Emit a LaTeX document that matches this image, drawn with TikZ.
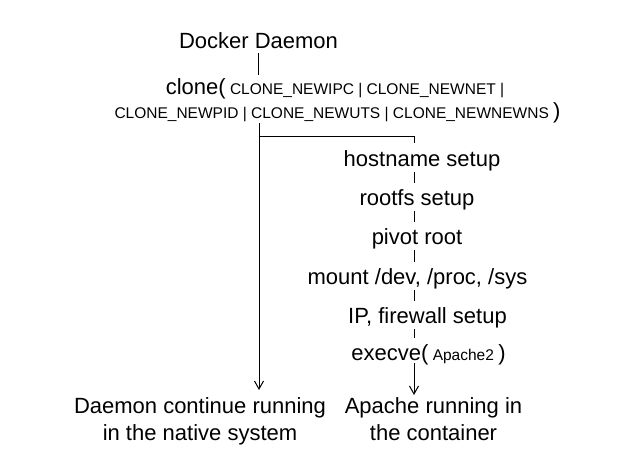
\documentclass[tikz,border=0pt]{standalone}
\usepackage{fontspec}
\setmainfont{Liberation Sans}
\usepackage{tikz}
\usetikzlibrary{arrows.meta,positioning}

\newcommand{\bigtxt}{\fontsize{22}{27.5}\selectfont}
\newcommand{\smalltxt}{\fontsize{15.5}{18}\selectfont}

\begin{document}
\begin{tikzpicture}[
    x=1pt, y=-1pt,
    stage/.style={anchor=base, inner sep=0pt, text height=16pt, text depth=5pt, font=\bigtxt},
    outcome/.style={anchor=north, inner sep=0pt, align=center, font=\bigtxt},
    tick/.style={line width=1pt, shorten <=1pt, shorten >=6pt},
    arrow/.style={->, >={Straight Barb[length=8pt,width=9pt]}, line width=1pt}
]
\useasboundingbox (0,0) rectangle (630,464);

\node[stage] (docker) at (258.5,48) {Docker Daemon};
\node[stage] (clone) at (335,94) {clone(\smalltxt{} CLONE\_NEWIPC | CLONE\_NEWNET |};
\node[stage] (flags) at (337.5,118) {\smalltxt CLONE\_NEWPID | CLONE\_NEWUTS | CLONE\_NEWNEWNS {\bigtxt)}};

\coordinate (split) at (259,136);
\coordinate (spine) at (414,0);

\node[stage] (hostname) at (422,166) {hostname setup};
\node[stage] (rootfs) at (417,205) {rootfs setup};
\node[stage] (pivot) at (417,244) {pivot root};
\node[stage] (mount) at (417.5,284) {mount /dev, /proc, /sys};
\node[stage] (firewall) at (427.5,323) {IP, firewall setup};
\node[stage] (execve) at (428.5,360) {execve(\smalltxt{} Apache2 {\bigtxt)}};

\node[outcome] (native) at (200,397) {Daemon continue running\\in the native system};
\node[outcome] (apache) at (433.5,397) {Apache running in\\the container};

% fork of the clone call
\draw[line width=1pt, shorten >=3pt] (docker.south) -- (docker.south |- clone.north);
\draw[arrow, shorten >=7pt] (split |- flags.south) -- (split |- native.north);
\draw[line width=1pt, shorten >=7pt] (split) -| (hostname.north -| spine);

% steps inside the container
\foreach \a/\b in {hostname/rootfs, rootfs/pivot, pivot/mount, mount/firewall, firewall/execve}
    \draw[tick] (\a.south -| spine) -- (\b.north -| spine);
\draw[arrow, shorten <=-2pt, shorten >=2pt] (execve.south -| spine) -- (apache.north -| spine);
\end{tikzpicture}
\end{document}
